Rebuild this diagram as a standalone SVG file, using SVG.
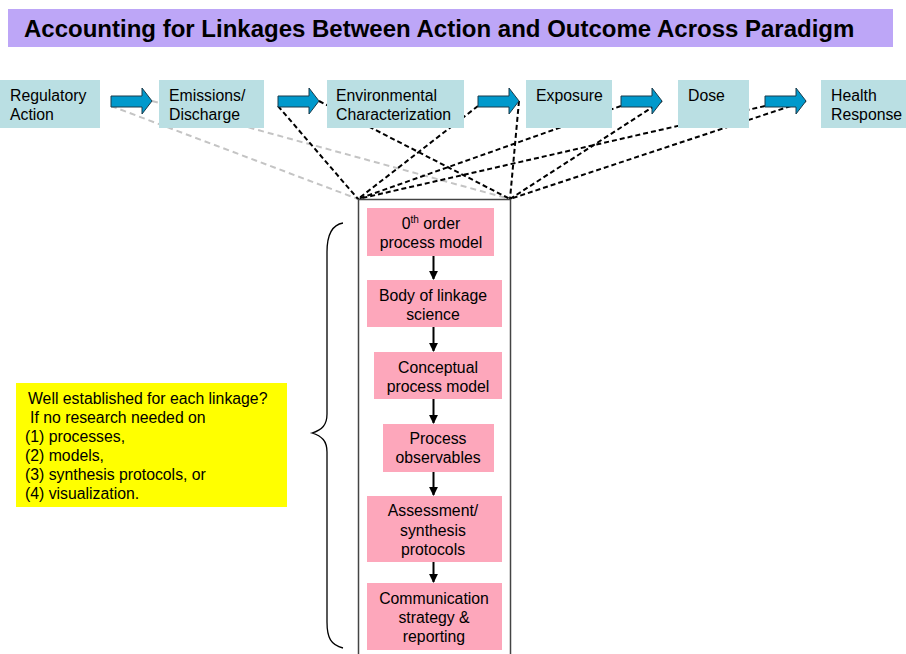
<svg xmlns="http://www.w3.org/2000/svg" width="906" height="654" viewBox="0 0 906 654">
<defs>
<style>
text{font-family:"Liberation Sans",Arial,sans-serif;font-size:15.8px;fill:#000}
.title{font-weight:bold;font-size:24px}
.top{fill:#badfe3}
.pink{fill:#fda7bb}
.c{text-anchor:middle}
.bl{stroke:#000;stroke-width:2;stroke-dasharray:5 3;fill:none}
.gr{stroke:#c4c4c4;stroke-width:2;stroke-dasharray:6 4;fill:none}
.flow{fill:#0099cc;stroke:#1b3b4b;stroke-width:1}
.dn{stroke:#000;stroke-width:2;fill:none;marker-end:url(#ah)}
</style>
<marker id="ah" viewBox="0 0 10 10" refX="9" refY="5" markerWidth="4.5" markerHeight="4.5" orient="auto" markerUnits="strokeWidth">
<path d="M0,0 L10,5 L0,10 Z" fill="#000"/>
</marker>
</defs>
<rect width="906" height="654" fill="#fff"/>
<g id="title">
<rect x="8" y="9" width="885" height="38" fill="#bda6f7"/>
<text class="title" x="24" y="37">Accounting for Linkages Between Action and Outcome Across Paradigm</text>
</g>
<g id="connectors">
<line class="gr" x1="111" y1="106" x2="358" y2="199"/>
<line class="gr" x1="152" y1="101" x2="510" y2="199"/>
<line class="bl" x1="278" y1="106" x2="358" y2="199"/>
<line class="bl" x1="319" y1="101" x2="510" y2="199"/>
<line class="bl" x1="478" y1="106" x2="358" y2="199"/>
<line class="bl" x1="519" y1="101" x2="510" y2="199"/>
<line class="bl" x1="621" y1="106" x2="358" y2="199"/>
<line class="bl" x1="662" y1="101" x2="510" y2="199"/>
<line class="bl" x1="765" y1="106" x2="358" y2="199"/>
<line class="bl" x1="806" y1="101" x2="510" y2="199"/>
<path class="dn" d="M433.5,256 V279"/>
<path class="dn" d="M433.5,327 V351"/>
<path class="dn" d="M433.5,399 V423"/>
<path class="dn" d="M433.5,472 V495"/>
<path class="dn" d="M433.5,562 V582"/>
</g>
<g id="regulatory-action"><rect class="top" x="0" y="80" width="100" height="48"/><text x="10" y="101">Regulatory</text><text x="10" y="120">Action</text></g>
<g id="emissions"><rect class="top" x="159" y="80" width="105" height="48"/><text x="169" y="101">Emissions/</text><text x="169" y="120">Discharge</text></g>
<g id="environmental"><rect class="top" x="327" y="80" width="137" height="48"/><text x="336" y="101">Environmental</text><text x="336" y="120">Characterization</text></g>
<g id="exposure"><rect class="top" x="526" y="80" width="86" height="48"/><text x="536" y="101">Exposure</text></g>
<g id="dose"><rect class="top" x="678" y="80" width="71" height="48"/><text x="688" y="101">Dose</text></g>
<g id="health-response"><rect class="top" x="821" y="80" width="85" height="48"/><text x="831" y="101">Health</text><text x="831" y="120">Response</text></g>
<g id="flow-arrows">
<path class="flow" d="M111,96 H142 V88 L152,101 L142,114 V107 H111 Z"/>
<path class="flow" d="M278,96 H309 V88 L319,101 L309,114 V107 H278 Z"/>
<path class="flow" d="M478,96 H509 V88 L519,101 L509,114 V107 H478 Z"/>
<path class="flow" d="M621,96 H652 V88 L662,101 L652,114 V107 H621 Z"/>
<path class="flow" d="M765,96 H796 V88 L806,101 L796,114 V107 H765 Z"/>
</g>
<g id="column"><rect x="358.5" y="199.5" width="152" height="470" fill="none" stroke="#444" stroke-width="1.5"/></g>
<g id="zero-order"><rect class="pink" x="367" y="208" width="127" height="48"/><text class="c" x="431" y="229">0<tspan font-size="10" dy="-6">th</tspan><tspan dy="6"> order</tspan></text><text class="c" x="431" y="248">process model</text></g>
<g id="body-linkage"><rect class="pink" x="367" y="280" width="135" height="47"/><text class="c" x="433" y="301">Body of linkage</text><text class="c" x="433" y="320">science</text></g>
<g id="conceptual"><rect class="pink" x="374" y="352" width="128" height="47"/><text class="c" x="438" y="373">Conceptual</text><text class="c" x="438" y="392">process model</text></g>
<g id="observables"><rect class="pink" x="383" y="424" width="111" height="48"/><text class="c" x="438" y="444">Process</text><text class="c" x="438" y="463">observables</text></g>
<g id="assessment"><rect class="pink" x="367" y="496" width="135" height="66"/><text class="c" x="433" y="516">Assessment/</text><text class="c" x="433" y="536">synthesis</text><text class="c" x="433" y="555">protocols</text></g>
<g id="communication"><rect class="pink" x="367" y="583" width="135" height="67"/><text class="c" x="434" y="604">Communication</text><text class="c" x="434" y="623">strategy &amp;</text><text class="c" x="434" y="642">reporting</text></g>
<g id="brace"><path d="M343,223 C331,225 327,236 327,252 L327,414 C327,425 322,430 312,433 C322,436 327,441 327,452 L327,622 C327,638 331,645 343,648" fill="none" stroke="#000" stroke-width="1.3"/></g>
<g id="note">
<rect x="16" y="383" width="271" height="124" fill="#ffff00"/>
<text x="28" y="404">Well established for each linkage?</text>
<text x="30" y="423">If no research needed on</text>
<text x="25" y="442">(1) processes,</text>
<text x="25" y="461">(2) models,</text>
<text x="25" y="480">(3) synthesis protocols, or</text>
<text x="25" y="499">(4) visualization.</text>
</g>
</svg>
